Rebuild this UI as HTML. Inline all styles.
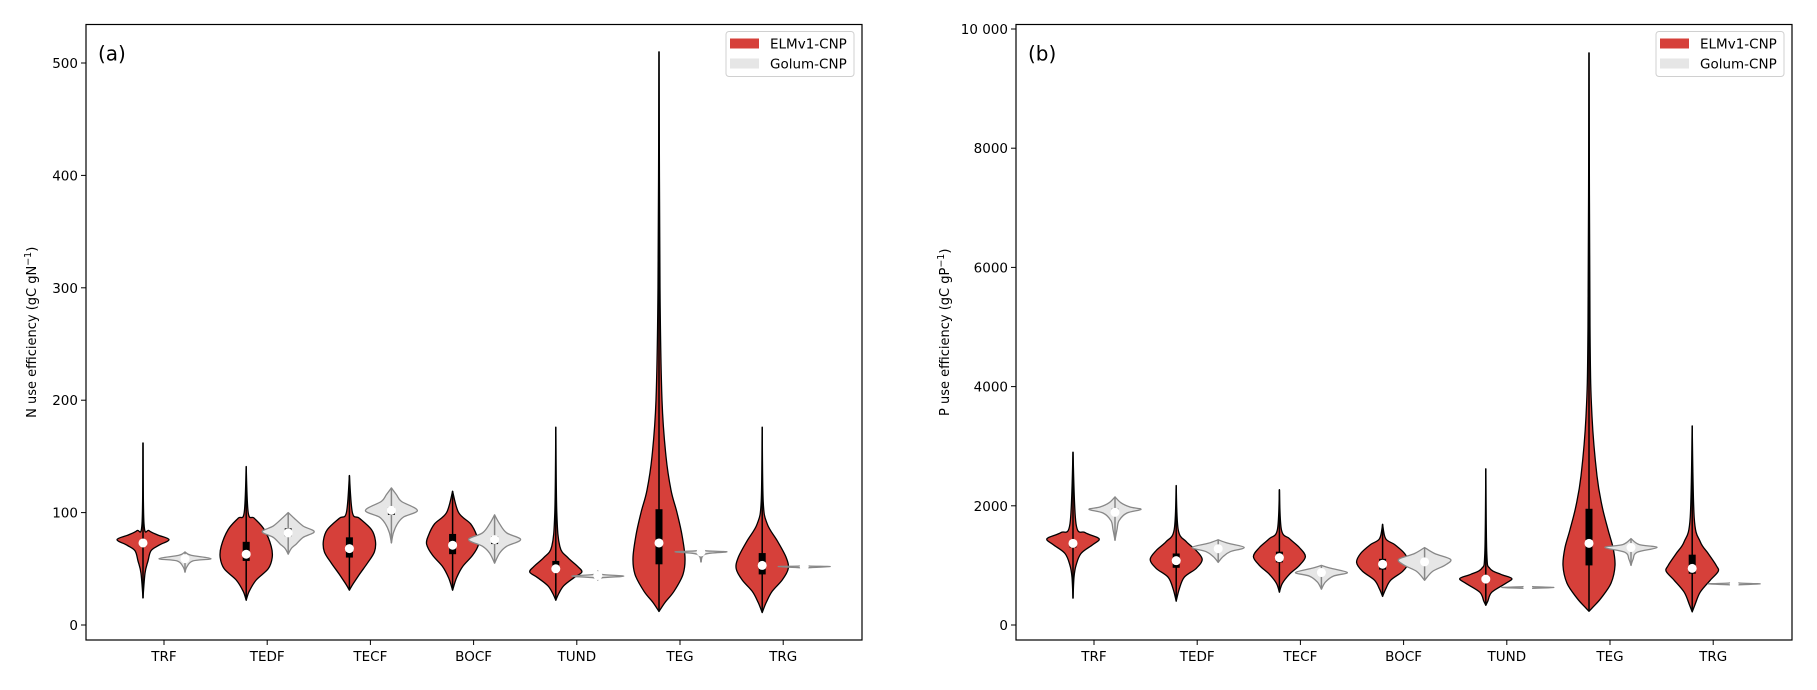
<!DOCTYPE html>
<html><head><meta charset="utf-8"><style>
body{margin:0;background:#fff}
svg text{font-family:"DejaVu Sans","Liberation Sans",sans-serif;fill:#000}
</style></head><body>
<svg id="chart" width="1817" height="685" xmlns="http://www.w3.org/2000/svg"></svg>
<script>
const categories = ["TRF","TEDF","TECF","BOCF","TUND","TEG","TRG"];
const seriesNames = ["ELMv1-CNP","Golum-CNP"];
// Panel a: N use efficiency. knots: [value, relative density]
const nElmKnots = [
 [[162,0],[90,1],[84,6],[80,15],[76,26],[71,16],[66,8],[57,5],[46,2],[24,0]],
 [[141,0],[100,2],[95,8],[85,18],[70,25],[60,26],[50,22],[40,10],[30,3],[22,0]],
 [[133,0],[100,3],[95,10],[85,22],[75,26],[65,25],[55,18],[45,10],[37,4],[31,0]],
 [[119,0],[100,6],[90,18],[80,24],[72,26],[62,20],[52,10],[42,4],[31,0]],
 [[176,0],[100,1],[70,4],[60,12],[52,22],[47,26],[42,18],[35,8],[28,3],[22,0]],
 [[510,0],[300,1],[200,3],[150,7],[120,12],[100,18],[80,23],[60,26],[45,24],[30,15],[20,6],[12,0]],
 [[176,0],[110,1],[90,5],[75,15],[60,24],[50,26],[40,20],[30,10],[20,4],[11,0]]
];
const nElmStats = [[70,73,75],[57,63,74],[60,68,78],[63,71,81],[47,50,57],[54,73,103],[45,53,64]]; // q1, median, q3
const nGolKnots = [
 [[65,0],[62,6],[59,26],[57,8],[52,2],[47,0]],
 [[100,0],[95,6],[88,15],[83,26],[78,15],[72,8],[68,3],[63,0]],
 [[122,0],[116,5],[110,10],[102,26],[96,12],[90,6],[82,2],[73,0]],
 [[98,0],[90,5],[82,12],[76,26],[70,12],[64,5],[55,0]],
 [[48,0],[45,4],[43.5,26],[42,4],[40,0]],
 [[67,0],[66,5],[65,26],[63,4],[56,0]],
 [[53.5,0],[52.5,5],[52,26],[51,4],[50,0]]
];
const nGolStats = [[58,59,60],[79,82,86],[98,102,105],[72,76,79],[43,44,45],[64,65,66],[51,52,52.5]];
// Panel b: P use efficiency
const pElmKnots = [
 [[2900,0],[1700,3],[1550,12],[1450,26],[1350,20],[1200,8],[1000,3],[800,1],[450,0]],
 [[2340,0],[1600,2],[1400,10],[1250,20],[1100,26],[950,20],[800,8],[600,3],[400,0]],
 [[2270,0],[1600,2],[1450,10],[1300,20],[1150,26],[1000,20],[850,10],[700,3],[550,0]],
 [[1690,0],[1450,3],[1350,12],[1200,22],[1050,26],[900,20],[750,8],[600,3],[480,0]],
 [[2620,0],[1200,1],[950,4],[850,15],[780,26],[700,20],[550,6],[400,2],[330,0]],
 [[9600,0],[5000,1],[3500,3],[2500,8],[2000,13],[1600,19],[1300,24],[1000,26],[700,22],[450,12],[300,4],[230,0]],
 [[3340,0],[1800,2],[1400,8],[1200,16],[1000,24],[900,26],[750,18],[550,8],[350,3],[220,0]]
];
const pElmStats = [[1300,1370,1420],[960,1080,1200],[1050,1130,1230],[930,1020,1110],[720,770,830],[1000,1370,1950],[860,950,1180]];
const pGolKnots = [
 [[2150,0],[2050,6],[1980,15],[1940,26],[1880,12],[1750,4],[1600,2],[1420,0]],
 [[1430,0],[1370,10],[1300,26],[1230,12],[1150,5],[1050,0]],
 [[1000,0],[950,10],[880,26],[820,12],[720,4],[600,0]],
 [[1300,0],[1200,10],[1100,26],[1000,20],[900,8],[750,0]],
 [[660,0],[645,5],[630,26],[615,4],[600,0]],
 [[1450,0],[1350,8],[1300,26],[1220,6],[1100,2],[1000,0]],
 [[730,0],[705,5],[690,26],[675,4],[650,0]]
];
const pGolStats = [[1870,1890,1950],[1250,1280,1310],[860,880,900],[1030,1060,1090],[625,630,635],[1290,1300,1310],[685,690,695]];
const nTicks = [0,100,200,300,400,500];
const pTicks = [0,2000,4000,6000,8000,10000];
const pTickLabels = ["0","2000","4000","6000","8000","10 000"];

const svg = document.getElementById('chart');
const NS = "http://www.w3.org/2000/svg";
function mk(tag, attrs, parent){const e=document.createElementNS(NS,tag);for(const k in attrs)e.setAttribute(k,attrs[k]);(parent||svg).appendChild(e);return e;}

function smoothPath(pts){ // catmull-rom
  let d="";
  for(let i=0;i<pts.length-1;i++){
    const p0=pts[Math.max(i-1,0)],p1=pts[i],p2=pts[i+1],p3=pts[Math.min(i+2,pts.length-1)];
    const c1=[p1[0]+(p2[0]-p0[0])/6,p1[1]+(p2[1]-p0[1])/6];
    const c2=[p2[0]-(p3[0]-p1[0])/6,p2[1]-(p3[1]-p1[1])/6];
    d+=` C${c1[0].toFixed(1)},${c1[1].toFixed(1)} ${c2[0].toFixed(1)},${c2[1].toFixed(1)} ${p2[0].toFixed(1)},${p2[1].toFixed(1)}`;
  }
  return d;
}

function panel(cfg){
  const g=mk('g',{});
  
  
  const {L,R,T,B,vmax}=cfg;
  const y0=625, y1=cfg.ytop;
  const yS=v=>y0-(v/vmax)*(y0-y1);
  const step=103.2;
  const xC=i=>L+78+step*i;
  cfg.ticks.forEach((t,i)=>{
    const y=yS(t);
    const l=mk('line',{x1:L-5,x2:L,y1:y,y2:y,stroke:'#000','stroke-width':1},g);
    
    
    const tx=mk('text',{x:L-8,y:y+5,'text-anchor':'end','font-size':13.5},g);
    
    
    tx.textContent=cfg.tickLabels[i];
  });
  categories.forEach((c,i)=>{
    const x=xC(i);
    const l=mk('line',{x1:x,x2:x,y1:B,y2:B+5,stroke:'#000','stroke-width':1},g);
    
    
    const tx=mk('text',{x:x,y:B+21,'text-anchor':'middle','font-size':13.5},g);
    
    
    tx.textContent=c;
  });
  const sets=[{k:cfg.elm,s:cfg.elmS,off:-21,fill:'#d6403a',stroke:'#000',sw:1.3,nm:'elm'},
              {k:cfg.gol,s:cfg.golS,off:21,fill:'#e6e6e6',stroke:'#888',sw:1.3,nm:'golum'}];
  sets.forEach(st=>{
    st.k.forEach((knots,i)=>{
      const cx=xC(i)+st.off;
      const dmax=Math.max(...knots.map(k=>k[1]));
      const right=knots.map(k=>[cx+k[1]/dmax*26,yS(k[0])]);
      const left=knots.slice().reverse().map(k=>[cx-k[1]/dmax*26,yS(k[0])]);
      let d=`M${right[0][0]},${right[0][1]}`+smoothPath(right)+` L${left[0][0]},${left[0][1]}`+smoothPath(left)+"Z";
      const p=mk('path',{d:d,fill:st.fill,stroke:st.stroke,'stroke-width':st.sw,'stroke-linejoin':'round'},g);
      
      
      const vmaxK=knots[0][0], vminK=knots[knots.length-1][0];
      const wl=mk('line',{x1:cx,x2:cx,y1:yS(vmaxK),y2:yS(vminK),stroke:st.stroke,'stroke-width':1.5},g);
      
      
      const [q1,med,q3]=st.s[i];
      const r=mk('rect',{x:cx-3.5,y:yS(q3),width:7,height:Math.max(yS(q1)-yS(q3),1),fill:'#000'},g);
      
      
      const c=mk('circle',{cx:cx,cy:yS(med),r:4.5,fill:'#fff'},g);
      
      
    });
  });
  const fr=mk('rect',{x:L,y:T,width:R-L,height:B-T,fill:'none',stroke:'#000','stroke-width':1.2},g);
  
  
  const lab=mk('text',{x:L+12,y:T+36,'font-size':20},g);
  
  
  lab.textContent=cfg.label;
  const yt=mk('text',{x:0,y:0,'text-anchor':'middle','font-size':13,transform:`translate(${cfg.ylx},${(T+B)/2}) rotate(-90)`},g);
  
  
  yt.innerHTML=cfg.ytitle+' (gC g'+cfg.el+'<tspan dy="-5" font-size="9.5">−1</tspan><tspan dy="5">)</tspan>';
  const lg=mk('g',{},g);
  
  
  const lx=R-136, ly=T+7;
  mk('rect',{x:lx,y:ly,width:128,height:45,rx:3,fill:'#fff',stroke:'#d0d0d0','stroke-width':1},lg);
  seriesNames.forEach((n,j)=>{
    const e=mk('g',{},lg);
    
    
    mk('rect',{x:lx+4,y:ly+7+j*20,width:29,height:10,fill:j?'#e6e6e6':'#d6403a'},e);
    const t=mk('text',{x:lx+44,y:ly+17+j*20,'font-size':13.5},e);
    t.textContent=n;
  });
}
panel({name:'panel-a-nitrogen',L:86,R:862,T:24.5,B:640,vmax:500,ytop:63,ticks:nTicks,tickLabels:nTicks.map(String),
  elm:nElmKnots,elmS:nElmStats,gol:nGolKnots,golS:nGolStats,label:'(a)',ytitle:'N use efficiency',el:'N',ylx:36});
panel({name:'panel-b-phosphorus',L:1016,R:1792,T:24.5,B:640,vmax:10000,ytop:29,ticks:pTicks,tickLabels:pTickLabels,
  elm:pElmKnots,elmS:pElmStats,gol:pGolKnots,golS:pGolStats,label:'(b)',ytitle:'P use efficiency',el:'P',ylx:949});
</script>
</body></html>
